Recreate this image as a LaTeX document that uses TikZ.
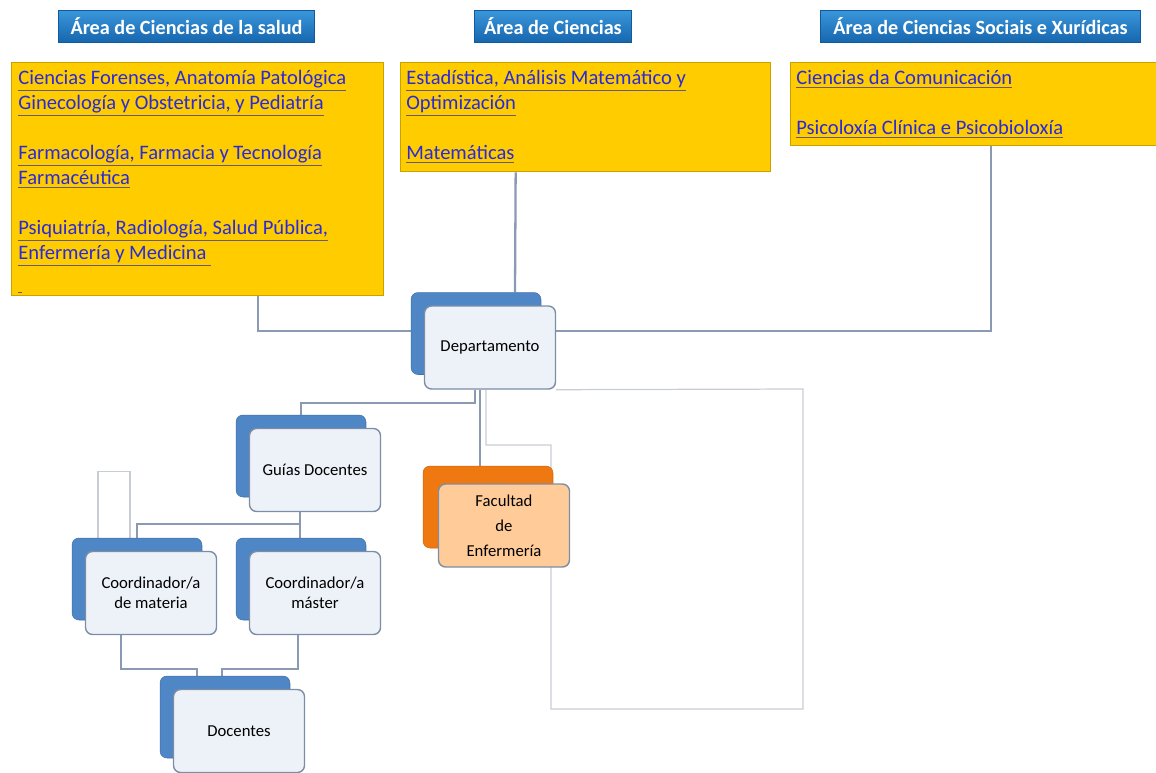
\documentclass[tikz,border=0pt]{standalone}
\usepackage{fontspec}
\setmainfont{Carlito}
\usetikzlibrary{calc,backgrounds}
\definecolor{hdrblue}{HTML}{1F7DC8}
\definecolor{hdrtop}{HTML}{3A96DA}
\definecolor{hdrbot}{HTML}{1666AE}
\definecolor{hdrborder}{HTML}{0E5C9E}
\definecolor{yfill}{HTML}{FFCC00}
\definecolor{yborder}{HTML}{C9A200}
\definecolor{linkblue}{HTML}{2A2AD8}
\definecolor{ulcol}{HTML}{6A5A70}
\definecolor{backblue}{HTML}{4F86C6}
\definecolor{frontfill}{HTML}{EDF2F9}
\definecolor{frontborder}{HTML}{7D8DA4}
\definecolor{orangeback}{HTML}{F07810}
\definecolor{peach}{HTML}{FFCC99}
\definecolor{conncol}{HTML}{8A9AB2}
\definecolor{thincol}{HTML}{C8CCD4}
\newcommand\lnk[1]{\rlap{\color{ulcol}\underline{\phantom{#1}}}#1}
\begin{document}
\begin{tikzpicture}[x=0.02cm,y=-0.02cm,
 hdr/.style={draw=hdrborder, top color=hdrtop, bottom color=hdrbot, text=white, font=\bfseries\fontsize{11.5}{13}\selectfont, minimum height=0.64cm, inner sep=0pt, anchor=north west, line width=0.6pt},
 ybox/.style={draw=yborder, fill=yfill, anchor=north west, inner sep=0pt, line width=0.8pt},
 ytext/.style={anchor=north west, align=left, inner sep=0pt, text=linkblue, font=\fontsize{11.7}{14.2}\selectfont},
 back/.style={fill=backblue, draw=backblue!85!black, line width=0.3pt, rounded corners=4pt, minimum width=2.6cm, minimum height=1.64cm, inner sep=0pt},
 front/.style={fill=frontfill, draw=frontborder, line width=0.8pt, rounded corners=4pt, minimum width=2.62cm, minimum height=1.66cm, align=center, font=\fontsize{9.5}{11.3}\selectfont, inner sep=0pt},
 conn/.style={draw=conncol, line width=1.3pt},
 thinline/.style={draw=thincol, line width=0.7pt}]
\useasboundingbox (0,0) rectangle (1156,772);

% headers
\node[hdr, minimum width=5.12cm] (h1) at (58,10) {Área de Ciencias de la salud};
\node[hdr, minimum width=3.14cm] (h2) at (474,10) {Área de Ciencias};
\node[hdr, minimum width=6.4cm] (h3) at (820,10) {Área de Ciencias Sociais e Xurídicas};

% yellow boxes
\node[ybox, minimum width=7.44cm, minimum height=4.66cm] (y1) at (11,62) {};
\node[ybox, minimum width=7.4cm, minimum height=2.18cm] (y2) at (400,62) {};
\node[ybox, minimum width=7.6cm, minimum height=1.66cm] (y3) at (790,62) {};

\node[ytext] (t1) at (18,70) {\lnk{Ciencias Forenses, Anatomía Patológica}\\
\lnk{Ginecología y Obstetricia, y Pediatría}\\[14.2pt]
\lnk{Farmacología, Farmacia y Tecnología}\\
\lnk{Farmacéutica}\\[14.2pt]
\lnk{Psiquiatría, Radiología, Salud Pública,}\\
\lnk{Enfermería y Medicina\ }\\[3pt]
\lnk{\hspace{2pt}}};
\node[ytext] (t2) at (406,70) {\lnk{Estadística, Análisis Matemático y}\\
\lnk{Optimización}\\[14.2pt]
\lnk{Matemáticas}};
\node[ytext] (t3) at (796,70) {\lnk{Ciencias da Comunicación}\\[14.2pt]
\lnk{Psicoloxía Clínica e Psicobioloxía}};

% hierarchy boxes
\node[back] (depb) at (476,333.5) {};
\node[front] (depf) at (490,347.5) {Departamento};
\node[back] (gb) at (301,456) {};
\node[front] (gf) at (315,470) {Guías Docentes};
\node[back] (cmb) at (137,579) {};
\node[front] (cmf) at (151,593) {Coordinador/a\\de materia};
\node[back] (cxb) at (301,579) {};
\node[front] (cxf) at (315,593) {Coordinador/a\\máster};
\node[back] (dbb) at (225,717) {};
\node[front] (dbf) at (239,731) {Docentes};
\node[back, fill=orangeback, draw=orangeback!85!black] (fb) at (488,507) {};
\node[front, fill=peach, draw=frontborder, font=\fontsize{9.5}{14.2}\selectfont] (ff) at (504,525.5) {Facultad\\de\\Enfermería};

\coordinate (g1) at (551,445);
\coordinate (g2) at (551,709);
\coordinate (g3) at (803,709);
\coordinate (g4) at (803,389);

\begin{scope}[on background layer]
\draw[conn] ($(y1.south west)+(247,0)$) |- ($(depf.west)+(0,-16.5)$);
\draw[conn] ($(y2.south)+(-70,0)$) -- ($(depb.north)+(39,0)$);
\draw[conn] ($(y3.south west)+(201,0)$) |- ($(depf.east)+(0,-16.5)$);
\draw[conn] ($(depf.south)+(-15,0)$) -- ++(0,13) -| (gb.north);
\draw[conn] ($(depf.south)+(-10,0)$) -- ($(fb.north)+(-8,0)$);
\draw[thinline] ($(depf.south)+(-4,0)$) |- (g1) -- (g2) -- (g3) -- (g4) -- (depf.south east);
\draw[conn] ($(gf.south)+(-15,0)$) -- ++(0,12) -| (cmb.north);
\draw[conn] ($(gf.south)+(-15,0)$) -- ($(cxb.north)+(-1,0)$);
\draw[thinline] ($(cmb.north)+(-39,0)$) -- ++(0,-66) -- ++(32,0) -- ++(0,66);
\draw[conn] ($(cmf.south)+(-30,0)$) -- ++(0,34) -| ($(dbb.north)+(-28,0)$);
\draw[conn] ($(cxf.south)+(-17,0)$) -- ++(0,34) -| ($(dbb.north)+(-3,0)$);
\end{scope}
\end{tikzpicture}
\end{document}
